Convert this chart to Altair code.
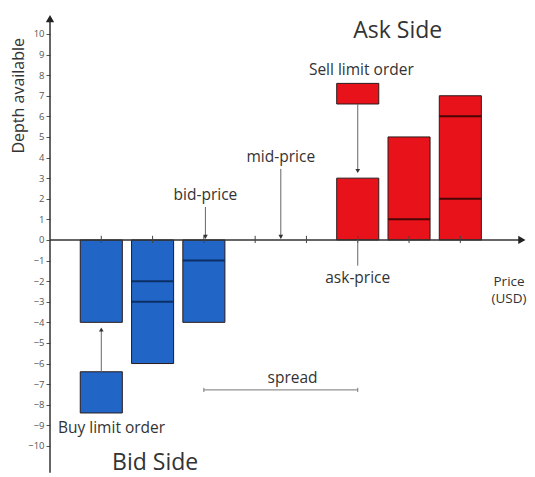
import altair as alt
import pandas as pd

# ---- data ----
bid_prices = [1, 2, 3]
bid_depth = [-4, -6, -4]
ask_prices = [6, 7, 8]
ask_depth = [3, 5, 7]
inner_price = [2, 2, 3, 7, 8, 8]
inner_level = [-2, -3, -1, 1, 2, 6]
inner_side = ["bid", "bid", "bid", "ask", "ask", "ask"]
tick_prices = [1, 2, 3, 4, 5, 6, 7, 8]
y_ticks = list(range(-10, 11))

order_side = ["ask", "bid"]
order_price = [6, 1]
order_low = [6.6, -8.4]
order_high = [7.6, -6.4]

half = 0.41
XS = alt.Scale(domain=[0, 9.3])
YS = alt.Scale(domain=[-11.12, 11.26])
YAX = alt.Axis(values=y_ticks, title=None, grid=False, domain=False, tickSize=4,
               tickColor="#555", labelColor="#555", labelFontSize=9.5, labelFont="Open Sans",
               labelPadding=2)
COL = {"bid": "#2166c6", "ask": "#e8121b"}
LINE_COL = {"bid": "#0c2f66", "ask": "#4a0606"}
FONT = "Open Sans"
TXT = "#333333"


def X(f):
    return alt.X(f, type="quantitative", scale=XS, axis=None)


def Y(f):
    return alt.Y(f, type="quantitative", scale=YS, axis=YAX)


bars = pd.DataFrame({
    "side": ["bid"] * 3 + ["ask"] * 3,
    "x1": [p - half for p in bid_prices + ask_prices],
    "x2": [p + half for p in bid_prices + ask_prices],
    "y1": [0] * 6,
    "y2": bid_depth + ask_depth,
})
orders = pd.DataFrame({
    "side": order_side,
    "x1": [p - half for p in order_price],
    "x2": [p + half for p in order_price],
    "y1": order_low,
    "y2": order_high,
})
allrects = pd.concat([bars, orders], ignore_index=True)
allrects["fill"] = allrects["side"].map(COL)

rects = alt.Chart(allrects).mark_rect(stroke="#2a1a1a", strokeWidth=1).encode(
    x=X("x1"), x2="x2", y=Y("y1"), y2="y2",
    fill=alt.Fill("fill:N", scale=None),
)

inner = pd.DataFrame({
    "side": inner_side,
    "x1": [p - half for p in inner_price],
    "x2": [p + half for p in inner_price],
    "y": inner_level,
})
inner["lc"] = inner["side"].map(LINE_COL)
inner_rules = alt.Chart(inner).mark_rule(strokeWidth=2).encode(
    x=X("x1"), x2="x2", y=Y("y"),
    stroke=alt.Stroke("lc:N", scale=None),
)

# axes lines
axes_df = pd.DataFrame({
    "x1": [0, 0], "x2": [9.2, 0], "y1": [0, -11.3], "y2": [0, 10.7],
})
axes_rules = alt.Chart(axes_df).mark_rule(color="#333", strokeWidth=1.5).encode(
    x=X("x1"), x2="x2", y=Y("y1"), y2="y2")

heads_df = pd.DataFrame({
    "x": [0, 9.2], "y": [10.75, 0], "shape": ["triangle-up", "triangle-right"],
})
heads = alt.Chart(heads_df).mark_point(filled=True, color="#222", size=70, opacity=1).encode(
    x=X("x"), y=Y("y"), shape=alt.Shape("shape:N", scale=None))

ticks_df = pd.DataFrame({"x": tick_prices, "y1": [-0.15] * 8, "y2": [0.2] * 8})
xticks = alt.Chart(ticks_df).mark_rule(color="#444", strokeWidth=1).encode(
    x=X("x"), y=Y("y1"), y2="y2")

# pointer arrows
ptr_df = pd.DataFrame({
    "x": [6, 1, 4.5, 3.03, 6],
    "y1": [6.6, -6.4, 3.45, 1.6, -1.25],
    "y2": [3.4, -4.4, 0.1, 0.1, 0],
})
ptrs = alt.Chart(ptr_df).mark_rule(color="#666", strokeWidth=1).encode(
    x=X("x"), y=Y("y1"), y2="y2")
phead_df = pd.DataFrame({
    "x": [6, 1, 4.5, 3.03],
    "y": [3.35, -4.35, 0.15, 0.15],
    "shape": ["triangle-down", "triangle-up", "triangle-down", "triangle-down"],
})
pheads = alt.Chart(phead_df).mark_point(filled=True, color="#333", size=22, opacity=1).encode(
    x=X("x"), y=Y("y"), shape=alt.Shape("shape:N", scale=None))

# spread line
spread_df = pd.DataFrame({"x1": [3.0], "x2": [6.0], "y": [-7.28]})
spread = alt.Chart(spread_df).mark_rule(color="#777", strokeWidth=1).encode(
    x=X("x1"), x2="x2", y=Y("y"))
spread_ends = pd.DataFrame({"x": [3.0, 6.0], "y1": [-7.18, -7.18], "y2": [-7.38, -7.38]})
spread_e = alt.Chart(spread_ends).mark_rule(color="#777", strokeWidth=1).encode(
    x=X("x"), y=Y("y1"), y2="y2")

# labels
small_labels = pd.DataFrame({
    "x": [6.07, 4.5, 3.03, 6.0, 1.2, 4.73],
    "y": [8.25, 4.05, 2.2, -1.85, -9.15, -6.68],
    "t": ["Sell limit order", "mid-price", "bid-price", "ask-price",
          "Buy limit order", "spread"],
})
small_txt = alt.Chart(small_labels).mark_text(font=FONT, fontSize=15.5, color=TXT, align="center",
                                              baseline="middle").encode(
    x=X("x"), y=Y("y"), text="t:N")

price_labels = pd.DataFrame({"x": [8.95, 8.95], "y": [-2.02, -2.86], "t": ["Price", "(USD)"]})
price_txt = alt.Chart(price_labels).mark_text(font=FONT, fontSize=13.5, color=TXT, align="center",
                                              baseline="middle").encode(
    x=X("x"), y=Y("y"), text="t:N")

big_labels = pd.DataFrame({"x": [6.78, 2.05], "y": [10.15, -10.85], "t": ["Ask Side", "Bid Side"]})
big_txt = alt.Chart(big_labels).mark_text(font=FONT, fontSize=23, color=TXT, align="center",
                                          baseline="middle").encode(
    x=X("x"), y=Y("y"), text="t:N")

title_df = pd.DataFrame({"x": [-0.6], "y": [7.0], "t": ["Depth available"]})
ytitle = alt.Chart(title_df).mark_text(font=FONT, fontSize=16, color=TXT, angle=270, align="center",
                                       baseline="middle").encode(
    x=X("x"), y=Y("y"), text="t:N")

chart = alt.layer(
    rects, inner_rules, axes_rules, heads, xticks, ptrs, pheads, spread, spread_e,
    small_txt, price_txt, big_txt, ytitle,
).properties(
    width=477, height=461,
    padding={"left": 42, "top": 0, "right": 0, "bottom": 8},
    autosize=alt.AutoSizeParams(type="none"),
).configure_view(stroke=None)

chart.save("out.html", embed_options={"renderer": "svg", "actions": False})
